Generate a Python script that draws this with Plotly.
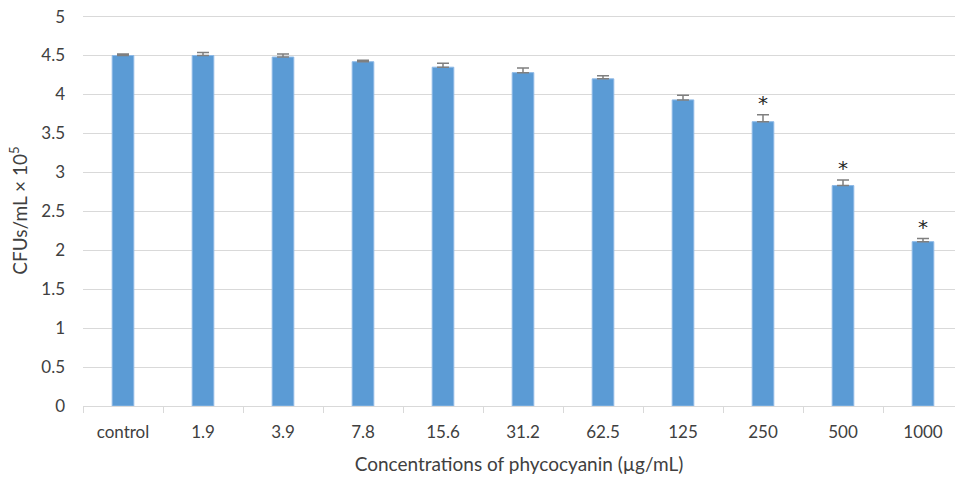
import plotly.graph_objects as go

categories = ["control", "1.9", "3.9", "7.8", "15.6", "31.2", "62.5", "125", "250", "500", "1000"]
values = [4.50, 4.50, 4.48, 4.42, 4.35, 4.28, 4.20, 3.93, 3.65, 2.83, 2.11]
errors = [0.02, 0.04, 0.04, 0.02, 0.05, 0.06, 0.04, 0.06, 0.09, 0.07, 0.04]
significant = [False, False, False, False, False, False, False, False, True, True, True]
y_ticks = [0, 0.5, 1, 1.5, 2, 2.5, 3, 3.5, 4, 4.5, 5]

font_family = "Lato, 'Open Sans', sans-serif"
text_color = "#404040"

fig = go.Figure()
fig.add_trace(go.Bar(
    x=categories,
    y=values,
    width=0.27,
    marker=dict(color="#5B9BD5", line=dict(color="#8DB8E5", width=1)),
    error_y=dict(type="data", symmetric=False, array=errors,
                 arrayminus=[0] * len(errors),
                 color="#7F7F7F", thickness=1.5, width=6),
))

star_x = [c for c, s in zip(categories, significant) if s]
star_y = [v + e for v, e, s in zip(values, errors, significant) if s]
fig.add_trace(go.Scatter(
    x=star_x, y=star_y, mode="text", text=["*"] * len(star_x),
    textposition="top center",
    textfont=dict(family="'DejaVu Sans', sans-serif", size=20, color="#262626"),
    hoverinfo="skip",
))

fig.update_layout(
    width=955, height=482,
    margin=dict(l=83, r=0, t=15, b=76, autoexpand=False),
    paper_bgcolor="white", plot_bgcolor="white",
    font=dict(family=font_family, size=18, color=text_color),
    showlegend=False,
    xaxis=dict(
        type="category",
        range=[-0.5, 10.4],
        automargin=False,
        showgrid=False,
        showline=True, linecolor="#D9D9D9", linewidth=1,
        ticks="outside", tickson="boundaries", ticklen=6, tickcolor="#D9D9D9",
        ticklabelstandoff=11,
        tickfont=dict(size=17, color=text_color),
        title=dict(text="Concentrations of phycocyanin (µg/mL)",
                   font=dict(size=19, color=text_color), standoff=16),
    ),
    yaxis=dict(
        range=[0, 5.02],
        tickmode="array", tickvals=y_ticks,
        automargin=False,
        ticklabeloverflow="allow",
        showgrid=True, gridcolor="#D9D9D9", gridwidth=1,
        zeroline=False, showline=False,
        ticks="", ticklabelstandoff=17,
        tickfont=dict(size=17, color=text_color),
        title=dict(text="CFUs/mL × 10<sup>5</sup>",
                   font=dict(size=19, color=text_color), standoff=8),
    ),
)

fig.write_html("out.html", config={"displayModeBar": False},
               post_script="document.body.style.margin='0';")
